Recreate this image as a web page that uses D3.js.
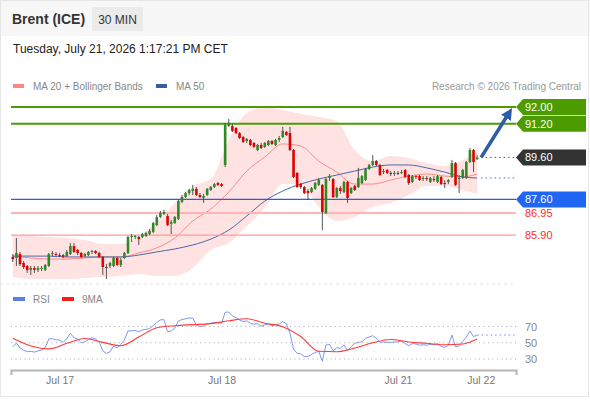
<!DOCTYPE html>
<html>
<head>
<meta charset="utf-8">
<script src="https://cdn.jsdelivr.net/npm/d3@7"></script>
<style>
  body { margin: 0; background: #fff; }
  svg { display: block; font-family: "Liberation Sans", Arial, sans-serif; }
</style>
</head>
<body>
<div id="chart"></div>
<script>
// 30 min bars, index based (weekend gaps removed)
const openP = [
  84.86, 84.81, 85.00, 84.57, 84.43, 84.24, 84.33, 84.24, 84.29, 84.24,
  84.43, 85.00, 85.00, 84.95, 84.95, 84.90, 85.00, 85.38, 85.19, 85.05,
  84.90, 84.95, 85.10, 85.14, 85.05, 84.86, 84.38, 84.43, 84.43, 84.81,
  84.48, 84.81, 85.05, 85.81, 85.81, 85.81, 85.81, 85.86, 85.95, 86.05,
  86.38, 86.76, 86.90, 86.81, 86.43, 86.48, 86.67, 87.48, 87.71, 87.90,
  88.00, 88.10, 87.81, 87.67, 87.81, 88.05, 88.19, 88.38, 88.33, 89.24,
  91.10, 91.10, 91.00, 90.76, 90.57, 90.38, 90.43, 90.29, 89.95, 90.19,
  90.10, 90.19, 90.38, 90.19, 90.43, 90.57, 90.81, 90.76, 89.95, 88.86,
  88.33, 88.19, 88.00, 87.95, 88.10, 88.29, 88.29, 86.95, 88.62, 88.57,
  87.71, 88.14, 87.95, 88.43, 87.90, 88.24, 88.19, 88.38, 88.52, 89.05,
  89.24, 89.43, 89.24, 88.90, 89.00, 88.86, 88.81, 88.86, 88.86, 89.00,
  88.76, 88.43, 88.71, 88.71, 88.57, 88.62, 88.43, 88.57, 88.43, 88.67,
  88.38, 88.43, 88.67, 89.33, 88.57, 88.62, 88.62, 89.38, 89.95, 89.52
];
const highP = [
  85.00, 85.76, 85.10, 84.67, 84.48, 84.43, 84.43, 84.43, 84.43, 84.52,
  85.05, 85.14, 85.10, 85.05, 85.00, 85.19, 85.52, 85.52, 85.24, 85.10,
  85.05, 85.14, 85.19, 85.19, 85.10, 84.90, 84.52, 84.62, 84.86, 84.86,
  84.81, 85.10, 85.86, 85.95, 85.90, 85.86, 86.00, 86.05, 86.19, 86.52,
  86.86, 87.05, 87.10, 86.90, 86.62, 86.81, 87.57, 87.81, 87.95, 88.10,
  88.29, 88.19, 87.90, 87.86, 88.14, 88.24, 88.38, 88.43, 88.38, 91.24,
  91.43, 91.19, 91.05, 90.81, 90.62, 90.52, 90.48, 90.33, 90.24, 90.29,
  90.33, 90.43, 90.43, 90.48, 90.62, 91.05, 90.86, 91.05, 90.00, 88.90,
  88.38, 88.24, 88.10, 88.19, 88.43, 88.62, 88.33, 88.62, 88.81, 88.62,
  88.19, 88.24, 88.48, 88.48, 88.19, 88.29, 89.10, 88.76, 89.10, 89.29,
  89.71, 89.48, 89.29, 89.05, 89.05, 88.95, 88.95, 88.95, 89.00, 89.05,
  88.81, 88.76, 88.76, 88.76, 88.71, 88.71, 88.67, 88.71, 88.76, 88.71,
  88.52, 88.57, 89.48, 89.38, 88.76, 89.05, 89.43, 90.05, 90.00, 89.71
];
const lowP = [
  84.62, 84.43, 84.43, 84.29, 84.10, 84.00, 84.10, 84.14, 84.19, 84.19,
  84.38, 84.90, 84.90, 84.86, 84.81, 84.86, 84.95, 85.05, 84.95, 84.81,
  84.86, 84.90, 85.00, 85.00, 84.81, 84.00, 83.81, 84.33, 84.38, 84.43,
  84.38, 84.76, 85.00, 85.57, 85.71, 85.43, 85.76, 85.81, 85.90, 86.00,
  86.33, 86.71, 86.86, 86.33, 85.95, 86.43, 86.62, 87.43, 87.67, 87.81,
  87.81, 87.76, 87.67, 87.43, 87.76, 88.00, 88.14, 88.24, 88.19, 89.14,
  91.05, 90.81, 90.71, 90.48, 90.29, 90.29, 90.14, 90.05, 89.90, 90.00,
  90.05, 90.14, 90.19, 90.14, 90.33, 90.52, 90.62, 89.90, 88.62, 88.14,
  88.10, 87.86, 87.57, 87.90, 88.05, 88.24, 86.14, 86.90, 88.48, 87.67,
  87.67, 87.86, 87.90, 87.43, 87.86, 88.00, 88.14, 88.33, 88.48, 89.00,
  89.19, 89.19, 88.71, 88.81, 88.81, 88.71, 88.71, 88.76, 88.81, 88.62,
  88.29, 88.38, 88.57, 88.48, 88.48, 88.48, 88.38, 88.43, 88.38, 88.29,
  88.14, 88.33, 88.62, 88.24, 87.90, 88.57, 88.57, 89.33, 88.90, 89.48
];
const closeP = [
  84.76, 85.05, 84.52, 84.38, 84.24, 84.33, 84.24, 84.33, 84.33, 84.48,
  85.00, 85.05, 84.95, 84.93, 84.86, 85.10, 85.38, 85.10, 85.05, 84.86,
  85.00, 85.10, 85.14, 85.05, 84.86, 84.38, 84.33, 84.57, 84.81, 84.48,
  84.71, 85.05, 85.81, 85.86, 85.86, 85.71, 85.95, 86.00, 86.10, 86.48,
  86.76, 86.95, 87.00, 86.38, 86.52, 86.76, 87.52, 87.71, 87.90, 88.05,
  88.10, 87.81, 87.71, 87.76, 88.10, 88.19, 88.33, 88.29, 88.24, 91.14,
  91.24, 90.86, 90.76, 90.52, 90.33, 90.48, 90.19, 90.10, 90.19, 90.05,
  90.29, 90.38, 90.24, 90.43, 90.52, 90.86, 90.67, 89.95, 88.67, 88.19,
  88.19, 87.90, 87.90, 88.14, 88.38, 88.52, 87.00, 88.57, 88.71, 87.71,
  88.14, 88.00, 88.43, 87.67, 88.14, 88.05, 88.62, 88.71, 89.05, 89.24,
  89.43, 89.24, 88.76, 88.95, 88.86, 88.81, 88.86, 88.84, 88.90, 88.67,
  88.38, 88.71, 88.67, 88.52, 88.62, 88.57, 88.62, 88.52, 88.71, 88.33,
  88.33, 88.52, 89.33, 88.29, 88.62, 89.00, 89.38, 89.95, 89.38, 89.60
];

// indicators read at every 5th bar
const sampleIdx = [0, 5, 10, 15, 20, 25, 30, 35, 40, 45, 50, 55, 60, 65, 70, 75, 80, 85, 90, 95, 100, 105, 110, 115, 120, 125, 129];
const ma20 = [84.90, 84.81, 84.76, 84.76, 84.81, 84.86, 84.86, 85.05, 85.29, 85.76, 86.57, 87.14, 87.95, 88.95, 89.62, 90.24, 90.14, 89.43, 88.90, 88.33, 88.33, 88.52, 88.71, 88.81, 88.71, 88.67, 88.81];
const bbUpper = [85.90, 85.86, 85.81, 85.76, 85.67, 85.48, 85.48, 85.86, 86.52, 87.43, 88.24, 88.57, 90.43, 91.71, 92.00, 91.86, 91.67, 91.52, 91.33, 89.95, 89.43, 89.67, 89.57, 89.33, 89.19, 89.48, 89.95];
const bbLower = [83.90, 83.81, 83.81, 83.81, 83.86, 83.90, 83.95, 84.05, 83.95, 83.95, 84.33, 85.19, 85.52, 86.33, 87.19, 88.33, 88.33, 87.24, 86.57, 86.76, 87.24, 87.43, 87.81, 88.24, 88.24, 88.05, 87.86];
const ma50 = [84.90, 84.90, 84.90, 84.86, 84.86, 84.86, 84.86, 84.95, 85.10, 85.24, 85.43, 85.71, 86.14, 86.81, 87.52, 88.00, 88.33, 88.57, 88.76, 88.95, 89.14, 89.24, 89.24, 89.10, 88.90, 88.67, 88.62];

const rsi = [
  45.0, 49.6, 43.8, 41.0, 39.0, 39.5, 38.5, 40.0, 41.0, 44.0,
  54.6, 55.0, 53.5, 53.3, 50.5, 55.0, 61.6, 56.0, 54.6, 50.0,
  51.2, 54.0, 56.2, 54.5, 51.0, 40.0, 36.9, 38.9, 46.0, 43.8,
  48.0, 53.3, 64.5, 64.8, 65.0, 63.5, 65.7, 66.5, 67.5, 71.0,
  75.0, 78.1, 78.5, 63.6, 64.5, 68.0, 76.9, 78.5, 79.5, 80.5,
  80.2, 72.0, 69.8, 70.5, 73.5, 74.0, 75.0, 74.5, 74.0, 87.6,
  87.8, 83.0, 81.0, 78.0, 76.0, 77.0, 74.0, 72.8, 73.5, 70.5,
  72.0, 73.0, 71.0, 72.5, 73.0, 76.0, 73.5, 62.0, 42.0, 37.0,
  36.5, 33.0, 33.0, 35.5, 38.0, 39.5, 27.3, 47.2, 48.0, 40.0,
  44.0, 43.0, 47.5, 40.5, 45.0, 49.3, 50.5, 51.2, 55.4, 57.0,
  58.7, 55.5, 50.5, 51.0, 50.5, 50.5, 51.0, 51.0, 52.1, 49.0,
  46.3, 49.0, 48.5, 47.0, 47.5, 47.0, 48.0, 47.5, 49.0, 45.5,
  44.5, 46.5, 59.5, 45.0, 46.0, 51.5, 57.0, 64.5, 57.5, 59.5
];
const rsiMa = [55.4, 46.0, 42.5, 49.3, 55.3, 50.5, 46.3, 57.0, 68.5, 71.0, 72.3, 73.5, 77.0, 79.5, 74.0, 69.8, 57.6, 39.6, 39.0, 43.5, 50.0, 54.0, 51.0, 49.3, 47.5, 48.5, 54.6];

// support / resistance levels
const levels = [
  { value: 92.00, kind: "res" },
  { value: 91.20, kind: "res" },
  { value: 89.60, kind: "last" },
  { value: 87.60, kind: "pivot" },
  { value: 86.95, kind: "sup" },
  { value: 85.90, kind: "sup2" }
];
const rsiTicks = [30, 50, 70];
const dayTickIdx = [13, 58, 107, 130];
const dayTickLabels = ["Jul 17", "Jul 18", "Jul 21", "Jul 22"];

const W = 590, H = 400;

const svg = d3.select("#chart").append("svg")
  .attr("width", W)
  .attr("height", H);

// background + header strip
svg.append("rect").attr("width", W).attr("height", H).attr("fill", "#fff");
svg.append("rect").attr("width", W).attr("height", 36).attr("fill", "#f7f7f7");
svg.append("rect").attr("x", 0.5).attr("y", 0.5).attr("width", W - 2).attr("height", H - 4)
  .attr("fill", "none").attr("stroke", "#e6e6e6");

svg.append("text").attr("x", 12).attr("y", 24)
  .attr("font-size", 14).attr("font-weight", "bold").attr("fill", "#333")
  .text("Brent (ICE)");
svg.append("rect").attr("x", 92).attr("y", 7).attr("width", 51).attr("height", 24).attr("fill", "#ebebeb");
svg.append("text").attr("x", 117.5).attr("y", 23.5).attr("text-anchor", "middle")
  .attr("font-size", 12).attr("fill", "#333").text("30 MIN");

svg.append("text").attr("x", 13).attr("y", 53)
  .attr("font-size", 12).attr("fill", "#222")
  .text("Tuesday, July 21, 2026 1:17:21 PM CET");

// legend
function legendItem(x, y, color, label) {
  svg.append("rect").attr("x", x).attr("y", y - 2).attr("width", 11).attr("height", 4).attr("fill", color);
  svg.append("text").attr("x", x + 20).attr("y", y + 3.5)
    .attr("font-size", 10).attr("fill", "#888").text(label);
}
legendItem(13, 86, "#ff8585", "MA 20 + Bollinger Bands");
legendItem(156, 86, "#3a5c9c", "MA 50");
svg.append("text").attr("x", 581).attr("y", 89.5).attr("text-anchor", "end")
  .attr("font-size", 10).attr("fill", "#999").text("Research \u00a9 2026 Trading Central");

// scales
const x = d3.scaleLinear().domain([-0.5, 139.8]).range([11, 516]);
const y = d3.scaleLinear().domain([83.5, 92.5]).range([285.5, 96.5]);
const yR = d3.scaleLinear().domain([30, 70]).range([359, 326.5]);

const bars = closeP.map((c, i) => ({ i, o: openP[i], h: highP[i], l: lowP[i], c }));
const samples = sampleIdx.map((idx, k) => ({ i: idx, ma20: ma20[k], up: bbUpper[k], lo: bbLower[k], ma50: ma50[k], rsiMa: rsiMa[k] }));

const main = svg.append("g");

// bollinger band + moving averages
main.append("path").datum(samples)
  .attr("fill", "#ffe2e2")
  .attr("d", d3.area().x(d => x(d.i)).y0(d => y(d.lo)).y1(d => y(d.up)).curve(d3.curveMonotoneX));
main.append("path").datum(samples)
  .attr("fill", "none").attr("stroke", "#ff8a8a").attr("stroke-width", 1)
  .attr("d", d3.line().x(d => x(d.i)).y(d => y(d.ma20)).curve(d3.curveMonotoneX));
main.append("path").datum(samples)
  .attr("fill", "none").attr("stroke", "#4a68a8").attr("stroke-width", 1)
  .attr("d", d3.line().x(d => x(d.i)).y(d => y(d.ma50)).curve(d3.curveMonotoneX));

// level lines
const levelStyle = {
  res: { stroke: "#4c9c00", width: 2, box: "#4c9c00", text: "#fff" },
  last: { stroke: null, width: 0, box: "#333333", text: "#fff" },
  pivot: { stroke: "#2b5fd9", width: 1.3, box: "#1f66f5", text: "#fff" },
  sup: { stroke: "#ffb5b5", width: 2, box: null, text: "#ff2b2b" },
  sup2: { stroke: "#ff9a9a", width: 1.2, box: null, text: "#ff2b2b" }
};
const x0 = x.range()[0], x1 = x.range()[1];

levels.forEach(lv => {
  const st = levelStyle[lv.kind];
  if (st.stroke) {
    main.append("line")
      .attr("x1", x0).attr("x2", x1)
      .attr("y1", y(lv.value)).attr("y2", y(lv.value))
      .attr("stroke", st.stroke).attr("stroke-width", st.width);
  }
});

// candles
const bw = 2.6;
const candle = main.selectAll(".candle").data(bars).enter().append("g").attr("class", "candle");
candle.append("line")
  .attr("x1", d => x(d.i)).attr("x2", d => x(d.i))
  .attr("y1", d => y(d.h)).attr("y2", d => y(d.l))
  .attr("stroke", "#444").attr("stroke-width", 0.9);
candle.append("rect")
  .attr("x", d => x(d.i) - bw / 2)
  .attr("width", bw)
  .attr("y", d => y(Math.max(d.o, d.c)))
  .attr("height", d => Math.max(1, Math.abs(y(d.o) - y(d.c))))
  .attr("fill", d => d.c > d.o ? "#2f8a26" : (d.c < d.o ? "#e00000" : "#444"));

// dotted extensions of last price and MA 50
const last = bars[bars.length - 1];
const lastMa50 = ma50[ma50.length - 1];
main.append("line")
  .attr("x1", x(last.i) + 4).attr("x2", x1)
  .attr("y1", y(last.c)).attr("y2", y(last.c))
  .attr("stroke", "#555").attr("stroke-width", 1).attr("stroke-dasharray", "1.5,3");
main.append("line")
  .attr("x1", x(last.i) + 4).attr("x2", x1)
  .attr("y1", y(lastMa50)).attr("y2", y(lastMa50))
  .attr("stroke", "#4a68c8").attr("stroke-width", 1).attr("stroke-dasharray", "1.5,3");

// level labels (pennant boxes)
levels.forEach(lv => {
  const st = levelStyle[lv.kind];
  const yy = y(lv.value);
  if (st.box) {
    const p = d3.path();
    p.moveTo(x1, yy);
    p.lineTo(x1 + 7, yy - 8);
    p.lineTo(586, yy - 8);
    p.lineTo(586, yy + 8);
    p.lineTo(x1 + 7, yy + 8);
    p.closePath();
    main.append("path").attr("d", p.toString()).attr("fill", st.box);
  }
  main.append("text")
    .attr("x", x1 + 9).attr("y", yy + 4)
    .attr("font-size", 11).attr("fill", st.text)
    .text(lv.value.toFixed(2));
});

// forecast arrow towards first resistance
svg.append("defs").append("marker")
  .attr("id", "arrowHead")
  .attr("viewBox", "0 0 10 10")
  .attr("refX", 5).attr("refY", 5)
  .attr("markerWidth", 3.2).attr("markerHeight", 3.2)
  .attr("orient", "auto")
  .append("path").attr("d", "M0,0L10,5L0,10Z").attr("fill", "#2e5ca6");
main.append("line")
  .attr("x1", x(last.i) + 4).attr("y1", y(last.c))
  .attr("x2", x1 - 7).attr("y2", y(levels[0].value) + 6)
  .attr("stroke", "#2e5ca6").attr("stroke-width", 3.6)
  .attr("marker-end", "url(#arrowHead)");

// panel separator
svg.append("line").attr("x1", 0).attr("x2", x1).attr("y1", 284).attr("y2", 284)
  .attr("stroke", "#e4e4e4").attr("stroke-dasharray", "3,3");

// RSI panel
function rsiLegend(xp, color, label) {
  svg.append("rect").attr("x", xp).attr("y", 297).attr("width", 12).attr("height", 4).attr("fill", color);
  svg.append("text").attr("x", xp + 20).attr("y", 302.5)
    .attr("font-size", 10).attr("fill", "#888").text(label);
}
rsiLegend(13, "#5b7fe6", "RSI");
rsiLegend(62, "#ff1a1a", "9MA");

const rsiG = svg.append("g");
rsiG.selectAll(".grid").data(rsiTicks).enter().append("line")
  .attr("x1", x0).attr("x2", x1)
  .attr("y1", d => yR(d)).attr("y2", d => yR(d))
  .attr("stroke", "#aaa").attr("stroke-width", 1).attr("stroke-dasharray", "1,3.5");

const rAxis = svg.append("g")
  .attr("transform", `translate(${x1},0)`)
  .call(d3.axisRight(yR).tickValues(rsiTicks).tickSize(0).tickPadding(9));
rAxis.select(".domain").remove();
rAxis.selectAll("text").attr("font-size", 11).attr("fill", "#888").attr("font-family", "Liberation Sans, Arial, sans-serif");

rsiG.append("path").datum(rsi)
  .attr("fill", "none").attr("stroke", "#7f98ec").attr("stroke-width", 1)
  .attr("d", d3.line().x((d, i) => x(i)).y(d => yR(d)));
rsiG.append("line")
  .attr("x1", x(rsi.length - 1)).attr("x2", x1)
  .attr("y1", yR(rsi[rsi.length - 1])).attr("y2", yR(rsi[rsi.length - 1]))
  .attr("stroke", "#6f8ff0").attr("stroke-dasharray", "1.5,3");
rsiG.append("path").datum(samples)
  .attr("fill", "none").attr("stroke", "#ff3a3a").attr("stroke-width", 1.1)
  .attr("d", d3.line().x(d => x(d.i)).y(d => yR(d.rsiMa)).curve(d3.curveMonotoneX));

// time axis
const xAxis = svg.append("g")
  .attr("transform", "translate(0,370)")
  .call(d3.axisBottom(x)
    .tickValues(dayTickIdx)
    .tickFormat((d, k) => dayTickLabels[k])
    .tickSizeInner(0)
    .tickSizeOuter(5)
    .tickPadding(7));
xAxis.select(".domain").attr("stroke", "#b5b5b5").attr("stroke-width", 2);
xAxis.selectAll("text").attr("font-size", 10.5).attr("fill", "#777").attr("font-family", "Liberation Sans, Arial, sans-serif");
</script>
</body>
</html>
